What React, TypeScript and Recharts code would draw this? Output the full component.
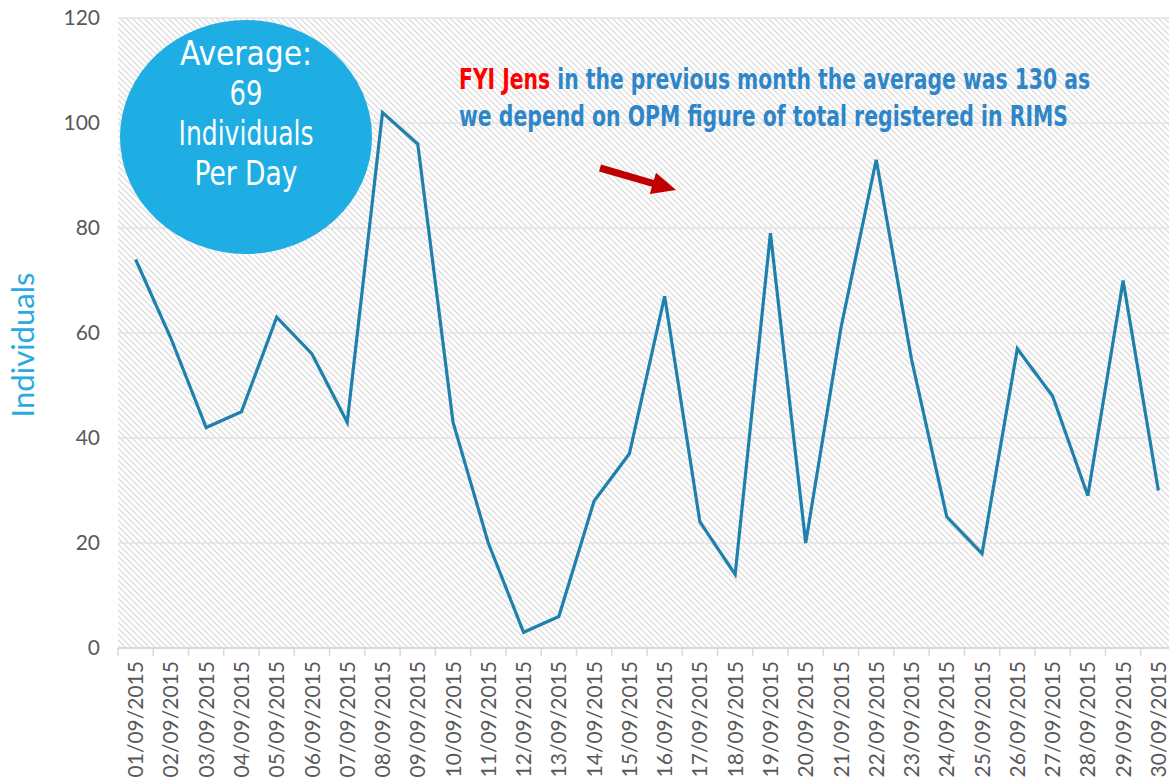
import { LineChart, Line, XAxis, YAxis, CartesianGrid } from "recharts";

const dates = [
  "01/09/2015", "02/09/2015", "03/09/2015", "04/09/2015", "05/09/2015",
  "06/09/2015", "07/09/2015", "08/09/2015", "09/09/2015", "10/09/2015",
  "11/09/2015", "12/09/2015", "13/09/2015", "14/09/2015", "15/09/2015",
  "16/09/2015", "17/09/2015", "18/09/2015", "19/09/2015", "20/09/2015",
  "21/09/2015", "22/09/2015", "23/09/2015", "24/09/2015", "25/09/2015",
  "26/09/2015", "27/09/2015", "28/09/2015", "29/09/2015", "30/09/2015",
];

const individuals = [
  74, 59, 42, 45, 63, 56, 43, 102, 96, 43,
  20, 3, 6, 28, 37, 67, 24, 14, 79, 20,
  61, 93, 55, 25, 18, 57, 48, 29, 70, 30,
];

const yTicks = [0, 20, 40, 60, 80, 100, 120];

// text lines of the average bubble, with their width in the original
const averageLines = ["Average:", "69", "Individuals", "Per Day"];
const averageWidths = [132, 33, 135, 103];

const rows = dates.map((date, i) => ({ date, value: individuals[i] }));

const CHART_W = 1176;
const PLOT_LEFT = 118;
const BAND = (CHART_W - PLOT_LEFT) / dates.length;

const FONT = "Lato, 'Open Sans', sans-serif";
const NARROW = "'Liberation Sans Narrow', 'DejaVu Sans Condensed', 'Liberation Sans', sans-serif";

function DateTick(props: any) {
  const { x, y, payload, index } = props;
  return (
    <g>
      <line x1={x - BAND / 2} y1={y} x2={x - BAND / 2} y2={y + 8} stroke="#d9d9d9" strokeWidth={1.5} />
      {index === dates.length - 1 && (
        <line x1={x + BAND / 2} y1={y} x2={x + BAND / 2} y2={y + 8} stroke="#d9d9d9" strokeWidth={1.5} />
      )}
      <text
        x={x}
        y={y + 13}
        dy="0.36em"
        transform={`rotate(-90, ${x}, ${y + 13})`}
        textAnchor="end"
        fill="#595959"
        fontSize={21}
        fontFamily={FONT}
      >
        {payload.value}
      </text>
    </g>
  );
}

function YLabel(props: any) {
  const vb = props.viewBox || { x: 0, y: 18, width: 118, height: 630 };
  const cx = vb.x + 22;
  const cy = vb.y + vb.height / 2 + 12;
  return (
    <text
      x={cx}
      y={cy}
      transform={`rotate(-90, ${cx}, ${cy})`}
      textAnchor="middle"
      dominantBaseline="central"
      fill="#29ABE2"
      fontSize={31}
      fontFamily={FONT}
    >
      Individuals
    </text>
  );
}

export default function App() {
  return (
    <div
      style={{
        position: "absolute",
        left: 0,
        top: 0,
        width: 1169,
        height: 777,
        overflow: "hidden",
        background: "#ffffff",
      }}
    >
      <LineChart width={CHART_W} height={777} data={rows} margin={{ top: 18, right: 0, left: 0, bottom: 0 }}>
        <defs>
          <pattern id="hatch" width="6" height="6" patternUnits="userSpaceOnUse">
            <rect width="6" height="6" fill="#ffffff" />
            <path d="M0,0 L6,6 M-1,5 L1,7 M5,-1 L7,1" stroke="#dcdcdc" strokeWidth={1.3} />
          </pattern>
        </defs>
        <CartesianGrid vertical={false} stroke="#e3e3e3" strokeWidth={1.5} fill="url(#hatch)" fillOpacity={1} />
        <XAxis
          dataKey="date"
          interval={0}
          height={129}
          padding={{ left: BAND / 2, right: BAND / 2 }}
          tickLine={false}
          tickSize={0}
          tickMargin={0}
          axisLine={{ stroke: "#d9d9d9", strokeWidth: 2 }}
          tick={<DateTick />}
        />
        <YAxis
          width={PLOT_LEFT}
          domain={[0, 120]}
          ticks={yTicks}
          axisLine={false}
          tickLine={false}
          tickSize={0}
          tickMargin={18}
          tick={{ fill: "#595959", fontSize: 21, fontFamily: FONT }}
          label={<YLabel />}
        />
        <Line
          type="linear"
          dataKey="value"
          stroke="#1F80AD"
          strokeWidth={3.2}
          dot={false}
          activeDot={false}
          isAnimationActive={false}
        />
      </LineChart>
      <svg
        width={1169}
        height={777}
        style={{ position: "absolute", left: 0, top: 0, pointerEvents: "none" }}
      >
        <ellipse cx={246} cy={137} rx={126} ry={117} fill="#1EAEE3" />
        {averageLines.map((t, i) => (
          <text
            key={t}
            x={246 - averageWidths[i] / 2}
            y={65 + i * 40}
            textLength={averageWidths[i]}
            lengthAdjust="spacingAndGlyphs"
            fill="#ffffff"
            fontSize={34}
            fontFamily={NARROW}
          >
            {t}
          </text>
        ))}
        <text
          x={459}
          y={89}
          textLength={631}
          lengthAdjust="spacingAndGlyphs"
          fontSize={29}
          fontWeight="bold"
          fontFamily={NARROW}
          fill="#2E86C8"
        >
          <tspan fill="#FF0000">FYI Jens</tspan> in the previous month the average was 130 as
        </text>
        <text
          x={459}
          y={126}
          textLength={609}
          lengthAdjust="spacingAndGlyphs"
          fontSize={29}
          fontWeight="bold"
          fontFamily={NARROW}
          fill="#2E86C8"
        >
          we depend on OPM figure of total registered in RIMS
        </text>
        <polygon
          points="599,171.4 651.9,186.7 649.8,193.9 676,190 656,172.7 653.9,179.9 601,164.6"
          fill="#C00000"
        />
      </svg>
    </div>
  );
}
